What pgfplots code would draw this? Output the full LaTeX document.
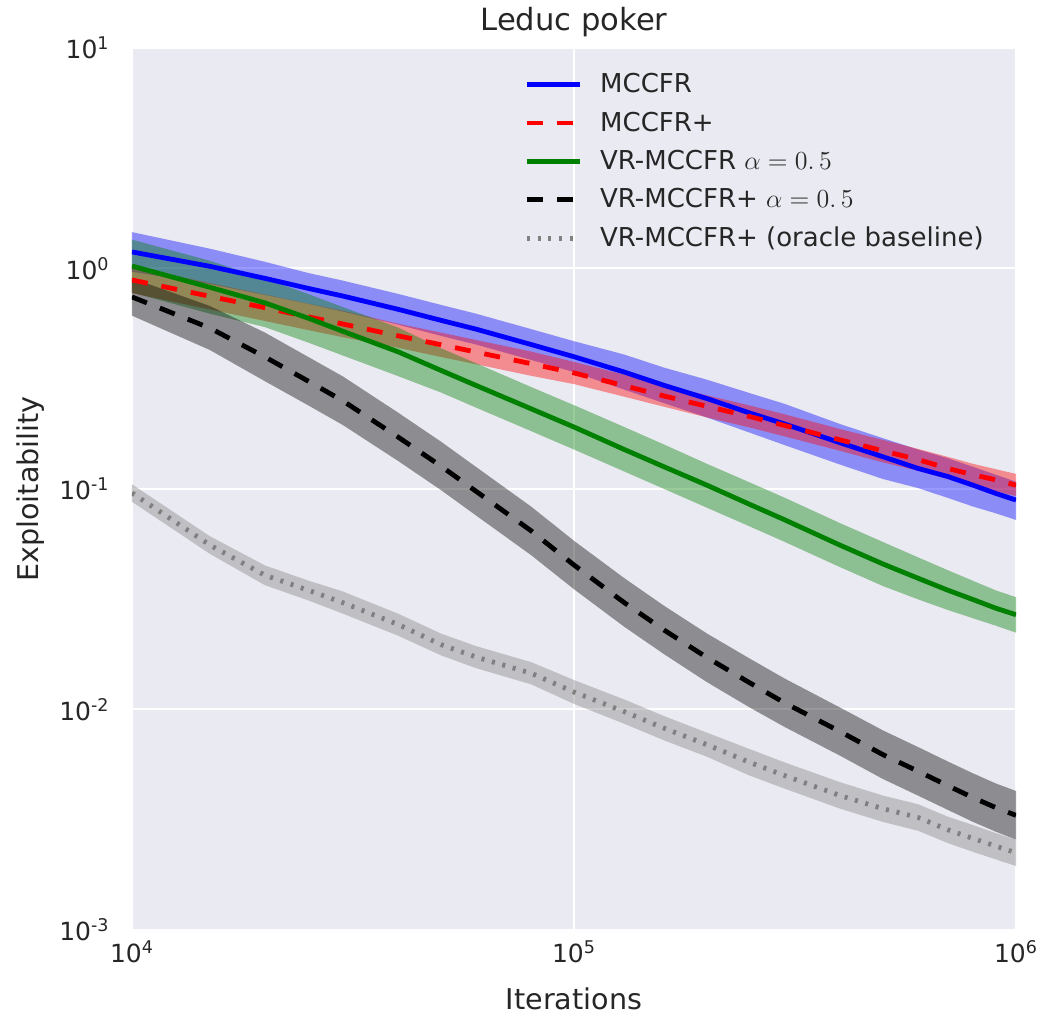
\RequirePackage{fix-cm}
\documentclass[border=0pt]{standalone}
\usepackage[no-math]{fontspec}
\setmainfont{DejaVu Sans}
\usepackage{pgfplots}
\usepackage{pgfplotstable}
\pgfplotsset{compat=1.18}
\usepgfplotslibrary{fillbetween}
\definecolor{bgc}{RGB}{234,234,242}
\definecolor{txt}{RGB}{38,38,38}
\definecolor{mplgreen}{RGB}{0,128,0}
\definecolor{mplgray}{RGB}{128,128,128}

\pgfplotstableread{
x y lo hi
10000 1.189 0.966 1.462
15000 1.023 0.851 1.230
20000 0.902 0.759 1.072
25000 0.813 0.692 0.955
30000 0.750 0.638 0.881
40000 0.653 0.556 0.767
50000 0.582 0.495 0.684
60000 0.531 0.452 0.624
80000 0.452 0.385 0.531
100000 0.398 0.339 0.468
130000 0.339 0.282 0.407
160000 0.295 0.245 0.355
200000 0.257 0.211 0.313
250000 0.221 0.180 0.272
300000 0.197 0.158 0.243
400000 0.162 0.129 0.197
500000 0.140 0.111 0.170
600000 0.124 0.101 0.151
700000 0.114 0.0912 0.138
800000 0.104 0.0832 0.126
900000 0.0955 0.0776 0.116
1000000 0.0891 0.0724 0.108
}\tblB

\pgfplotstableread{
x y lo hi
10000 0.887 0.773 1.019
15000 0.748 0.652 0.859
20000 0.664 0.578 0.762
25000 0.604 0.526 0.693
30000 0.560 0.488 0.643
40000 0.495 0.437 0.562
50000 0.451 0.397 0.512
60000 0.418 0.368 0.474
80000 0.370 0.326 0.420
100000 0.336 0.299 0.377
130000 0.294 0.262 0.330
160000 0.264 0.236 0.296
200000 0.237 0.211 0.266
250000 0.213 0.190 0.239
300000 0.194 0.173 0.218
400000 0.167 0.149 0.187
500000 0.149 0.132 0.167
600000 0.136 0.121 0.152
700000 0.124 0.111 0.140
800000 0.116 0.104 0.130
900000 0.110 0.0977 0.123
1000000 0.104 0.0929 0.117
}\tblR

\pgfplotstableread{
x y lo hi
10000 1.026 0.778 1.352
15000 0.822 0.624 1.084
20000 0.698 0.542 0.899
25000 0.596 0.462 0.767
30000 0.519 0.403 0.668
40000 0.419 0.325 0.540
50000 0.345 0.274 0.435
60000 0.295 0.234 0.372
80000 0.231 0.183 0.290
100000 0.191 0.151 0.240
130000 0.151 0.120 0.191
160000 0.126 0.100 0.159
200000 0.104 0.0822 0.130
250000 0.0851 0.0676 0.107
300000 0.0724 0.0575 0.0912
400000 0.0556 0.0442 0.0700
500000 0.0457 0.0363 0.0575
600000 0.0394 0.0316 0.0490
700000 0.0348 0.0283 0.0429
800000 0.0315 0.0259 0.0383
900000 0.0288 0.0240 0.0347
1000000 0.0269 0.0223 0.0323
}\tblG

\pgfplotstableread{
x y lo hi
10000 0.743 0.611 0.904
15000 0.537 0.427 0.676
20000 0.397 0.308 0.512
25000 0.309 0.240 0.398
30000 0.251 0.195 0.324
40000 0.172 0.134 0.222
50000 0.127 0.0989 0.164
60000 0.0977 0.0759 0.126
80000 0.0646 0.0501 0.0832
100000 0.0452 0.0351 0.0582
130000 0.0305 0.0237 0.0394
160000 0.0229 0.0178 0.0295
200000 0.0172 0.0133 0.0221
250000 0.0132 0.0102 0.0170
300000 0.0107 0.00832 0.0138
400000 0.00794 0.00617 0.0102
500000 0.00624 0.00484 0.00804
600000 0.00525 0.00407 0.00676
700000 0.00452 0.00351 0.00582
800000 0.00398 0.00309 0.00513
900000 0.00359 0.00279 0.00462
1000000 0.00331 0.00257 0.00427
}\tblK

\pgfplotstableread{
x y lo hi
10000 0.0959 0.0875 0.105
15000 0.0557 0.0508 0.0611
20000 0.0406 0.0366 0.0450
25000 0.0348 0.0313 0.0385
30000 0.0305 0.0272 0.0343
40000 0.0243 0.0216 0.0272
50000 0.0197 0.0176 0.0221
60000 0.0173 0.0154 0.0194
80000 0.0146 0.0130 0.0164
100000 0.0120 0.0106 0.0136
130000 0.00977 0.00861 0.0111
160000 0.00822 0.00724 0.00933
200000 0.00692 0.00610 0.00785
250000 0.00575 0.00501 0.00661
300000 0.00501 0.00437 0.00575
400000 0.00407 0.00355 0.00468
500000 0.00355 0.00309 0.00407
600000 0.00324 0.00282 0.00372
700000 0.00285 0.00248 0.00327
800000 0.00260 0.00226 0.00299
900000 0.00240 0.00209 0.00275
1000000 0.00224 0.00195 0.00257
}\tblY

\begin{document}
\begin{tikzpicture}
\begin{axis}[
  at={(0,0)}, anchor=south west,
  scale only axis, width=442pt, height=441pt,
  xmode=log, ymode=log,
  xmin=1e4, xmax=1e6, ymin=1e-3, ymax=10,
  axis background/.style={fill=bgc},
  axis line style={draw=none},
  tick style={draw=none},
  major tick length=0pt,
  xmajorgrids, ymajorgrids,
  major grid style={white, line width=1pt},
  xtick={1e4,1e5,1e6},
  xticklabels={10\textsuperscript{4},10\textsuperscript{5},10\textsuperscript{6}},
  ytick={1e-3,1e-2,1e-1,1,10},
  yticklabels={10\textsuperscript{-3},10\textsuperscript{-2},10\textsuperscript{-1},10\textsuperscript{0},10\textsuperscript{1}},
  minor xtick={}, minor ytick={},
  xticklabel style={font=\fontsize{12.5}{15}\selectfont, text=txt, inner sep=0pt, anchor=north, yshift=-5pt},
  yticklabel style={font=\fontsize{12.5}{15}\selectfont, text=txt, inner sep=0pt, anchor=east, xshift=-11pt},
  title={Leduc poker},
  every axis title/.style={at={(axis description cs:0.5,1)}, anchor=base, yshift=8.5pt, font=\fontsize{15.3}{18}\selectfont, text=txt},
  xlabel={Iterations},
  ylabel={Exploitability},
  every axis x label/.style={at={(axis description cs:0.5,0)}, anchor=base, yshift=-40pt, font=\fontsize{14.3}{17}\selectfont, text=txt},
  every axis y label/.style={at={(axis description cs:-0.1063,0.5)}, rotate=90, anchor=base, font=\fontsize{14.3}{17}\selectfont, text=txt},
  no markers,
  legend cell align=left,
  legend image code/.code={\draw[#1] (0pt,0pt) -- (26.5pt,0pt);},
  legend style={at={(rel axis cs:0.4434,0.976)}, anchor=north west, draw=none, fill=none,
    inner sep=0pt, row sep=4pt, font=\fontsize{13}{15.6}\selectfont, text=txt,
    nodes={inner xsep=0pt, inner ysep=2pt},
    /tikz/every odd column/.append style={column sep=9pt}},
]
% bands
\addplot[draw=none, name path=Bhi, forget plot] table[x=x,y=hi]{\tblB};
\addplot[draw=none, name path=Blo, forget plot] table[x=x,y=lo]{\tblB};
\addplot[fill=blue, fill opacity=0.4, draw=none, forget plot] fill between[of=Bhi and Blo];
\addplot[draw=none, name path=Rhi, forget plot] table[x=x,y=hi]{\tblR};
\addplot[draw=none, name path=Rlo, forget plot] table[x=x,y=lo]{\tblR};
\addplot[fill=red, fill opacity=0.4, draw=none, forget plot] fill between[of=Rhi and Rlo];
\addplot[draw=none, name path=Ghi, forget plot] table[x=x,y=hi]{\tblG};
\addplot[draw=none, name path=Glo, forget plot] table[x=x,y=lo]{\tblG};
\addplot[fill=mplgreen, fill opacity=0.4, draw=none, forget plot] fill between[of=Ghi and Glo];
\addplot[draw=none, name path=Khi, forget plot] table[x=x,y=hi]{\tblK};
\addplot[draw=none, name path=Klo, forget plot] table[x=x,y=lo]{\tblK};
\addplot[fill=black, fill opacity=0.4, draw=none, forget plot] fill between[of=Khi and Klo];
\addplot[draw=none, name path=Yhi, forget plot] table[x=x,y=hi]{\tblY};
\addplot[draw=none, name path=Ylo, forget plot] table[x=x,y=lo]{\tblY};
\addplot[fill=mplgray, fill opacity=0.4, draw=none, forget plot] fill between[of=Yhi and Ylo];
% lines
\addplot[blue, line width=2.4pt] table[x=x,y=y]{\tblB};
\addlegendentry{MCCFR}
\addplot[red, line width=2.4pt, dash pattern=on 8pt off 7pt] table[x=x,y=y]{\tblR};
\addlegendentry{MCCFR+}
\addplot[mplgreen, line width=2.4pt] table[x=x,y=y]{\tblG};
\addlegendentry{VR-MCCFR $\alpha=0.\,5$}
\addplot[black, line width=2.4pt, dash pattern=on 8pt off 7pt] table[x=x,y=y]{\tblK};
\addlegendentry{VR-MCCFR+ $\alpha=0.\,5$}
\addplot[mplgray, line width=2.4pt, dash pattern=on 1.5pt off 3.9pt] table[x=x,y=y]{\tblY};
\addlegendentry{VR-MCCFR+ (oracle baseline)}
\end{axis}
\path (-66pt,-45pt) rectangle (454.5pt,465pt);
\end{tikzpicture}
\end{document}
